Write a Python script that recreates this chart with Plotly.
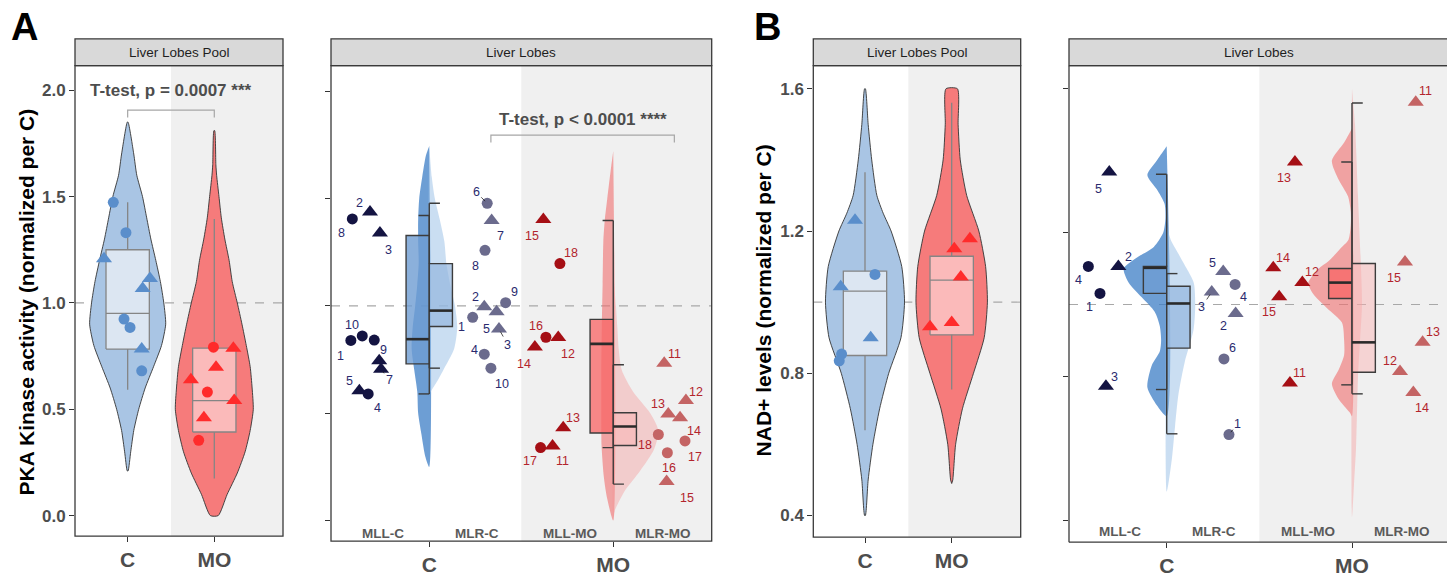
import plotly.graph_objects as go

W, H = 1447, 577
FONT = "Liberation Sans, Arial, sans-serif"

# ======================= DATA =======================
group_ticks = ["C", "MO"]

# ---- Panel A, Liver Lobes Pool (PKA kinase activity) ----
A_pool_C_val = [1.473, 1.33, 1.208, 1.115, 1.068, 0.924, 0.885, 0.783, 0.681]
A_pool_C_jit = [0.834, 0.98, 0.727, 1.257, 1.173, 0.958, 1.027, 1.162, 1.162]
A_pool_C_shp = ["c", "c", "t", "t", "t", "c", "c", "t", "c"]
A_pool_MO_val = [0.792, 0.787, 0.697, 0.639, 0.581, 0.541, 0.46, 0.354]
A_pool_MO_jit = [1.99, 2.22, 2.02, 1.73, 1.92, 2.23, 1.88, 1.82]
A_pool_MO_shp = ["c", "t", "t", "t", "c", "t", "t", "c"]
# box stats: lower whisker, q1, median, q3, upper whisker
A_pool_C_box = [0.592, 0.783, 0.951, 1.25, 1.473]
A_pool_MO_box = [0.174, 0.393, 0.541, 0.787, 1.395]
# violin density profiles (level, relative density)
A_pool_C_lev = [0.21, 0.3, 0.4, 0.5, 0.6, 0.7, 0.8, 0.9, 1.0, 1.1, 1.2, 1.3, 1.4, 1.5, 1.6, 1.7, 1.85]
A_pool_C_den = [0.01, 0.08, 0.16, 0.29, 0.46, 0.68, 0.89, 1.0, 0.95, 0.86, 0.74, 0.61, 0.5, 0.39, 0.24, 0.16, 0.01]
A_pool_MO_lev = [0.0, 0.1, 0.2, 0.3, 0.4, 0.5, 0.6, 0.7, 0.8, 0.9, 1.0, 1.1, 1.2, 1.3, 1.4, 1.5, 1.6, 1.65, 1.81]
A_pool_MO_den = [0.10, 0.33, 0.59, 0.79, 0.92, 1.0, 0.97, 0.92, 0.82, 0.71, 0.59, 0.46, 0.38, 0.27, 0.18, 0.12, 0.06, 0.04, 0.01]
A_pool_test = "T-test, p = 0.0007 ***"

# ---- Panel A, Liver Lobes ----
A_MLLC_id = ["1", "2", "3", "4", "5", "", "7", "8", "9", "10"]
A_MLLC_jit = [0.574, 0.678, 0.732, 0.668, 0.62, 0.701, 0.738, 0.582, 0.728, 0.636]
A_MLLC_val = [0.839, 1.437, 1.34, 0.59, 0.605, 0.841, 0.705, 1.405, 0.744, 0.86]
A_MLLC_shp = ["c", "t", "t", "c", "t", "c", "t", "c", "t", "c"]
A_MLRC_id = ["1", "2", "3", "4", "5", "6", "7", "8", "9", "10"]
A_MLRC_jit = [1.236, 1.299, 1.379, 1.299, 1.366, 1.315, 1.339, 1.303, 1.415, 1.335]
A_MLRC_val = [0.947, 0.996, 0.892, 0.775, 0.973, 1.478, 1.398, 1.259, 1.015, 0.71]
A_MLRC_shp = ["c", "t", "t", "c", "t", "c", "t", "c", "c", "c"]
A_MLLMO_id = ["11", "12", "13", "14", "15", "16", "17", "18"]
A_MLLMO_jit = [1.67, 1.701, 1.728, 1.574, 1.62, 1.634, 1.605, 1.71]
A_MLLMO_val = [0.347, 0.853, 0.432, 0.808, 1.402, 0.854, 0.34, 1.197]
A_MLLMO_shp = ["t", "t", "t", "t", "t", "c", "c", "c"]
A_MLRMO_id = ["11", "12", "13", "14", "15", "16", "17", "18"]
A_MLRMO_jit = [2.277, 2.395, 2.299, 2.363, 2.29, 2.294, 2.39, 2.245]
A_MLRMO_val = [0.733, 0.559, 0.497, 0.479, 0.182, 0.316, 0.371, 0.401]
A_MLRMO_shp = ["t", "t", "t", "t", "t", "c", "c", "c"]
A_MLLC_box = [0.59, 0.73, 0.845, 1.328, 1.421]
A_MLRC_box = [0.71, 0.904, 0.978, 1.197, 1.478]
A_MLLMO_box = [0.34, 0.408, 0.823, 0.937, 1.398]
A_MLRMO_box = [0.17, 0.35, 0.438, 0.502, 0.726]
A_MLLC_lev = [0.25, 0.3, 0.4, 0.5, 0.6, 0.7, 0.8, 0.9, 1.0, 1.1, 1.2, 1.3, 1.4, 1.5, 1.6, 1.7, 1.745]
A_MLLC_den = [0.0, 0.23, 0.44, 0.63, 0.68, 0.85, 1.0, 0.94, 0.8, 0.68, 0.6, 0.63, 0.63, 0.57, 0.4, 0.19, 0.0]
A_MLRC_lev = [0.59, 0.6, 0.65, 0.7, 0.8, 0.9, 1.0, 1.1, 1.2, 1.3, 1.4, 1.5, 1.6, 1.745]
A_MLRC_den = [0.0, 0.05, 0.29, 0.5, 0.89, 1.0, 0.92, 0.75, 0.61, 0.54, 0.38, 0.2, 0.09, 0.0]
A_MLLMO_lev = [0.0, 0.1, 0.2, 0.35, 0.5, 0.7, 0.9, 1.1, 1.3, 1.4, 1.5, 1.65, 1.72]
A_MLLMO_den = [0.0, 0.5, 0.78, 0.98, 1.0, 1.0, 0.96, 0.89, 0.83, 0.71, 0.5, 0.17, 0.0]
A_MLRMO_lev = [0.02, 0.05, 0.14, 0.23, 0.33, 0.42, 0.5, 0.6, 0.7, 0.8, 0.9, 1.0, 1.15]
A_MLRMO_den = [0.0, 0.04, 0.26, 0.59, 0.9, 1.0, 0.82, 0.44, 0.19, 0.12, 0.09, 0.06, 0.0]
A_lobe_test = "T-test, p < 0.0001 ****"

# ---- Panel B, Liver Lobes Pool (NAD+) ----
B_pool_C_val = [1.23, 1.078, 1.043, 0.9, 0.854, 0.835]
B_pool_C_jit = [0.885, 1.115, 0.72, 1.066, 0.73, 0.703]
B_pool_C_shp = ["t", "c", "t", "t", "c", "c"]
B_pool_MO_val = [1.178, 1.15, 1.071, 0.931, 0.943]
B_pool_MO_jit = [2.21, 2.03, 2.105, 1.75, 2.0]
B_pool_MO_shp = ["t", "t", "t", "t", "t"]
B_pool_C_box = [0.64, 0.85, 1.031, 1.087, 1.365]
B_pool_MO_box = [0.754, 0.908, 1.062, 1.129, 1.561]
B_pool_C_lev = [0.4, 0.5, 0.6, 0.7, 0.8, 0.9, 1.0, 1.1, 1.2, 1.25, 1.3, 1.4, 1.5, 1.6]
B_pool_C_den = [0.01, 0.08, 0.2, 0.37, 0.6, 0.91, 1.0, 0.93, 0.66, 0.46, 0.3, 0.17, 0.08, 0.01]
B_pool_MO_lev = [0.49, 0.5, 0.6, 0.7, 0.8, 0.9, 1.0, 1.1, 1.2, 1.3, 1.4, 1.5, 1.6]
B_pool_MO_den = [0.0, 0.03, 0.11, 0.3, 0.61, 0.91, 1.0, 0.95, 0.76, 0.42, 0.24, 0.18, 0.16]

# ---- Panel B, Liver Lobes ----
B_MLLC_id = ["1", "2", "3", "4", "5"]
B_MLLC_jit = [0.64, 0.739, 0.672, 0.577, 0.69]
B_MLLC_val = [1.031, 1.106, 0.773, 1.106, 1.368]
B_MLLC_shp = ["c", "t", "t", "c", "t"]
B_MLRC_id = ["1", "2", "3", "4", "5", "6"]
B_MLRC_jit = [1.336, 1.372, 1.243, 1.369, 1.305, 1.309]
B_MLRC_val = [0.639, 0.975, 1.035, 1.056, 1.092, 0.849]
B_MLRC_shp = ["c", "t", "t", "c", "t", "c"]
B_MLLMO_id = ["11", "12", "13", "14", "15"]
B_MLLMO_jit = [1.665, 1.732, 1.692, 1.575, 1.607]
B_MLLMO_val = [0.782, 1.061, 1.396, 1.102, 1.022]
B_MLLMO_shp = ["t", "t", "t", "t", "t"]
B_MLRMO_id = ["11", "12", "13", "14", "15"]
B_MLRMO_jit = [2.344, 2.259, 2.381, 2.331, 2.286]
B_MLRMO_val = [1.562, 0.814, 0.895, 0.756, 1.118]
B_MLRMO_shp = ["t", "t", "t", "t", "t"]
B_MLLC_box = [0.764, 1.031, 1.102, 1.106, 1.362]
B_MLRC_box = [0.641, 0.879, 1.003, 1.051, 1.086]
B_MLLMO_box = [0.777, 1.017, 1.061, 1.1, 1.396]
B_MLRMO_box = [0.752, 0.812, 0.895, 1.114, 1.56]
B_MLLC_lev = [0.69, 0.72, 0.77, 0.83, 0.87, 0.9, 0.94, 0.98, 1.02, 1.06, 1.1, 1.13, 1.16, 1.2, 1.24, 1.28, 1.32, 1.36, 1.4, 1.44]
B_MLLC_den = [0.0, 0.23, 0.45, 0.35, 0.16, 0.13, 0.16, 0.28, 0.58, 0.88, 1.0, 0.7, 0.3, 0.08, 0.03, 0.05, 0.23, 0.45, 0.23, 0.0]
B_MLRC_lev = [0.48, 0.57, 0.66, 0.75, 0.84, 0.93, 1.0, 1.06, 1.1, 1.14, 1.18, 1.22]
B_MLRC_den = [0.0, 0.18, 0.29, 0.41, 0.63, 0.94, 1.0, 0.95, 0.7, 0.42, 0.14, 0.0]
B_MLLMO_lev = [0.69, 0.7, 0.74, 0.78, 0.82, 0.86, 0.9, 0.95, 0.99, 1.03, 1.06, 1.1, 1.12, 1.155, 1.18, 1.22, 1.26, 1.3, 1.35, 1.4, 1.45, 1.49]
B_MLLMO_den = [0.0, 0.05, 0.32, 0.46, 0.3, 0.18, 0.18, 0.23, 0.57, 0.89, 1.0, 0.76, 0.54, 0.27, 0.08, 0.03, 0.03, 0.09, 0.32, 0.46, 0.18, 0.0]
B_MLRMO_lev = [0.41, 0.5, 0.6, 0.7, 0.8, 0.9, 1.0, 1.1, 1.3, 1.5, 1.6]
B_MLRMO_den = [0.0, 0.2, 0.4, 0.5, 0.6, 0.8, 1.0, 0.9, 0.6, 0.3, 0.0]

sub_labels = ["MLL-C", "MLR-C", "MLL-MO", "MLR-MO"]

# ======================= STYLE / LAYOUT CONSTANTS =======================
C_VIOL, C_BOX, C_PT = "#a9c5e4", "#dce6f2", "#5a8ecb"
MO_VIOL, MO_BOX, MO_PT = "#f67b7b", "#fbbaba", "#ff2b2b"
COL_MLLC_V, COL_MLRC_V = "rgba(60,125,198,0.75)", "rgba(150,190,230,0.5)"
COL_MLLMO_V, COL_MLRMO_V = "rgba(240,110,110,0.6)", "rgba(245,150,150,0.4)"
COL_MLLC_B, COL_MLRC_B = "rgba(110,156,210,0.8)", "rgba(148,182,222,0.7)"
COL_MLLMO_B, COL_MLRMO_B = "rgba(248,100,100,0.75)", "rgba(250,175,175,0.45)"
PT_MLLC, PT_MLRC, PT_MLLMO, PT_MLRMO = "#141442", "#6b6b8d", "#a50f15", "#c46464"
LAB_C, LAB_MO = "#2a2a6e", "#b3242c"
TXT = "#4d4d4d"

def pxx(p):
    return p / W

def pxy(p):
    return 1 - p / H

# panel geometry (pixels) and axis ranges
P = {
    1: dict(x=(75, 283), y=(66, 539), xr=[0.392, 2.793], yr=[-0.0968, 2.1155]),
    2: dict(x=(331, 711.7), y=(66, 544), xr=[0.466, 2.535], yr=[-0.0959, 2.119]),
    3: dict(x=(813.3, 1020.7), y=(66, 540), xr=[0.4037, 2.796], yr=[0.339, 1.665]),
    4: dict(x=(1069, 1447), y=(66, 545), xr=[0.4727, 2.5127], yr=[0.340, 1.6636]),
}

def ax(i):
    return ("x" if i == 1 else f"x{i}", "y" if i == 1 else f"y{i}")

fig = go.Figure()
shapes, anns = [], []
SYM = {"c": "circle", "t": "triangle-up"}
SIZE = {"c": 11, "t": 14}

def add_points(i, xs, vs, shp, color):
    xa, ya = ax(i)
    fig.add_trace(go.Scatter(
        x=xs, y=vs, mode="markers", xaxis=xa, yaxis=ya, showlegend=False, hoverinfo="skip",
        marker=dict(symbol=[SYM[s] for s in shp], size=[SIZE[s] for s in shp],
                    color=color, opacity=1, line=dict(width=0))))

def add_full_violin(i, center, lev, den, maxw, fill):
    xa, ya = ax(i)
    xs = [center + d * maxw for d in den] + [center - d * maxw for d in reversed(den)]
    ys = list(lev) + list(reversed(lev))
    xs.append(xs[0]); ys.append(ys[0])
    fig.add_trace(go.Scatter(
        x=xs, y=ys, mode="lines", fill="toself", fillcolor=fill, xaxis=xa, yaxis=ya,
        line=dict(color="#333333", width=0.9, shape="spline", smoothing=0.6),
        showlegend=False, hoverinfo="skip"))

def add_half_violin(i, center, side, lev, den, maxw, fill):
    xa, ya = ax(i)
    xs = [center + side * d * maxw for d in den] + [center, center]
    ys = list(lev) + [lev[-1], lev[0]]
    fig.add_trace(go.Scatter(
        x=xs, y=ys, mode="lines", fill="toself", fillcolor=fill, xaxis=xa, yaxis=ya,
        line=dict(width=0, shape="spline", smoothing=0.7),
        showlegend=False, hoverinfo="skip"))

def add_pool_box(i, center, st, fill, half=0.25):
    xa, ya = ax(i)
    x0, x1 = center - half, center + half
    col = "#858585"
    fig.add_trace(go.Scatter(
        x=[x0, x1, x1, x0, x0], y=[st[1], st[1], st[3], st[3], st[1]], mode="lines",
        fill="toself", fillcolor=fill, line=dict(color=col, width=1.3),
        xaxis=xa, yaxis=ya, showlegend=False, hoverinfo="skip"))
    fig.add_trace(go.Scatter(
        x=[center, center, None, center, center, None, x0, x1],
        y=[st[3], st[4], None, st[1], st[0], None, st[2], st[2]],
        mode="lines", line=dict(color=col, width=1.3),
        xaxis=xa, yaxis=ya, showlegend=False, hoverinfo="skip"))

HB, CAP = 0.126, 0.058

def add_half_box(i, center, side, st, fill):
    xa, ya = ax(i)
    x0, x1 = center, center + side * HB
    fig.add_trace(go.Scatter(
        x=[x0, x1, x1, x0, x0], y=[st[1], st[1], st[3], st[3], st[1]], mode="lines",
        fill="toself", fillcolor=fill, line=dict(color="#3c3c3c", width=1.4),
        xaxis=xa, yaxis=ya, showlegend=False, hoverinfo="skip"))
    xc = center + side * CAP
    fig.add_trace(go.Scatter(
        x=[center, center, None, center, center, None, center, xc, None, center, xc],
        y=[st[3], st[4], None, st[1], st[0], None, st[4], st[4], None, st[0], st[0]],
        mode="lines", line=dict(color="#3c3c3c", width=1.4),
        xaxis=xa, yaxis=ya, showlegend=False, hoverinfo="skip"))
    fig.add_trace(go.Scatter(
        x=[x0, x1], y=[st[2], st[2]], mode="lines", line=dict(color="#2a2a2a", width=2.6),
        xaxis=xa, yaxis=ya, showlegend=False, hoverinfo="skip"))

def add_labels(i, xs, vs, ids, offs, segs, color):
    xa, ya = ax(i)
    for x, v, t, (dx, dy), s in zip(xs, vs, ids, offs, segs):
        if not t:
            continue
        f = dict(family=FONT, size=12.5, color=color)
        if s:
            anns.append(dict(x=x, y=v, xref=xa, yref=ya, text=t, showarrow=True, ax=dx, ay=dy,
                             arrowhead=0, arrowwidth=0.8, arrowcolor="#222222", standoff=3, font=f))
        else:
            anns.append(dict(x=x, y=v, xref=xa, yref=ya, text=t, showarrow=False,
                             xanchor="center", yanchor="middle",
                             xshift=dx, yshift=-dy, font=f))

def add_bracket(i, x0, x1, ytop, ytick, text, tx, ty):
    xa, ya = ax(i)
    fig.add_trace(go.Scatter(
        x=[x0, x0, x1, x1], y=[ytick, ytop, ytop, ytick], mode="lines",
        line=dict(color="#a6a6a6", width=1.2), xaxis=xa, yaxis=ya,
        showlegend=False, hoverinfo="skip"))
    anns.append(dict(x=tx, y=ty, xref=xa, yref=ya, text=text, showarrow=False,
                     xanchor="center", yanchor="middle",
                     font=dict(family=FONT, size=17, color=TXT, weight="bold")))

# ---------- background shapes ----------
for i in P:
    xa, ya = ax(i)
    shapes.append(dict(type="rect", xref=xa, yref=f"{ya} domain", x0=1.5, x1=P[i]["xr"][1] + 0.1,
                       y0=0, y1=1, fillcolor="#f0f0f0", line=dict(width=0), layer="below"))
    shapes.append(dict(type="line", xref=f"{xa} domain", yref=ya, x0=0, x1=1, y0=1, y1=1,
                       line=dict(color="#a8a8a8", width=1.1, dash="dash"), layer="below"))

# ---------- Panel 1 ----------
add_full_violin(1, 1, A_pool_C_lev, A_pool_C_den, 0.439, C_VIOL)
add_full_violin(1, 2, A_pool_MO_lev, A_pool_MO_den, 0.45, MO_VIOL)
add_pool_box(1, 1, A_pool_C_box, C_BOX)
add_pool_box(1, 2, A_pool_MO_box, MO_BOX)
add_points(1, A_pool_C_jit, A_pool_C_val, A_pool_C_shp, C_PT)
add_points(1, A_pool_MO_jit, A_pool_MO_val, A_pool_MO_shp, MO_PT)
add_bracket(1, 1, 2, 1.906, 1.872, A_pool_test, 1.494, 2.0)

# ---------- Panel 2 ----------
add_half_violin(2, 1, -1, A_MLLC_lev, A_MLLC_den, 0.0957, COL_MLLC_V)
add_half_violin(2, 1, 1, A_MLRC_lev, A_MLRC_den, 0.152, COL_MLRC_V)
add_half_violin(2, 2, -1, A_MLLMO_lev, A_MLLMO_den, 0.065, COL_MLLMO_V)
add_half_violin(2, 2, 1, A_MLRMO_lev, A_MLRMO_den, 0.245, COL_MLRMO_V)
add_half_box(2, 1, -1, A_MLLC_box, COL_MLLC_B)
add_half_box(2, 1, 1, A_MLRC_box, COL_MLRC_B)
add_half_box(2, 2, -1, A_MLLMO_box, COL_MLLMO_B)
add_half_box(2, 2, 1, A_MLRMO_box, COL_MLRMO_B)
add_points(2, A_MLLC_jit, A_MLLC_val, A_MLLC_shp, PT_MLLC)
add_points(2, A_MLRC_jit, A_MLRC_val, A_MLRC_shp, PT_MLRC)
add_points(2, A_MLLMO_jit, A_MLLMO_val, A_MLLMO_shp, PT_MLLMO)
add_points(2, A_MLRMO_jit, A_MLRMO_val, A_MLRMO_shp, PT_MLRMO)
add_labels(2, A_MLLC_jit, A_MLLC_val, A_MLLC_id,
           [(-10, 16), (-11, -9), (9, 17), (9, 14), (-10, -10), (0, 0), (8, 11), (-11, 14), (4, -11), (-10, -11)],
           [0, 0, 0, 0, 0, 0, 1, 0, 0, 0], LAB_C)
add_labels(2, A_MLRC_jit, A_MLRC_val, A_MLRC_id,
           [(-11, 10), (-9, -10), (9, 16), (-10, -4), (-10, 17), (-11, -11), (9, 16), (-10, 16), (9, -11), (11, 16)],
           [0, 0, 1, 0, 0, 1, 0, 0, 0, 0], LAB_C)
add_labels(2, A_MLLMO_jit, A_MLLMO_val, A_MLLMO_id,
           [(10, 15), (10, 17), (10, -10), (-11, 17), (-11, 16), (-10, -11), (-11, 13), (11, -11)],
           [0] * 8, LAB_MO)
add_labels(2, A_MLRMO_jit, A_MLRMO_val, A_MLRMO_id,
           [(10, -9), (10, -9), (-10, -10), (14, 13), (20, 16), (2, 15), (10, 16), (-13, 11)],
           [0] * 8, LAB_MO)
add_bracket(2, 1.335, 2.332, 1.795, 1.761, A_lobe_test, 1.833, 1.866)

# ---------- Panel 3 ----------
add_full_violin(3, 1, B_pool_C_lev, B_pool_C_den, 0.456, C_VIOL)
add_full_violin(3, 2, B_pool_MO_lev, B_pool_MO_den, 0.412, MO_VIOL)
add_pool_box(3, 1, B_pool_C_box, C_BOX)
add_pool_box(3, 2, B_pool_MO_box, MO_BOX)
add_points(3, B_pool_C_jit, B_pool_C_val, B_pool_C_shp, C_PT)
add_points(3, B_pool_MO_jit, B_pool_MO_val, B_pool_MO_shp, MO_PT)

# ---------- Panel 4 ----------
add_half_violin(4, 1, -1, B_MLLC_lev, B_MLLC_den, 0.232, COL_MLLC_V)
add_half_violin(4, 1, 1, B_MLRC_lev, B_MLRC_den, 0.154, COL_MLRC_V)
add_half_violin(4, 2, -1, B_MLLMO_lev, B_MLLMO_den, 0.236, COL_MLLMO_V)
add_half_violin(4, 2, 1, B_MLRMO_lev, B_MLRMO_den, 0.054, COL_MLRMO_V)
add_half_box(4, 1, -1, B_MLLC_box, COL_MLLC_B)
add_half_box(4, 1, 1, B_MLRC_box, COL_MLRC_B)
add_half_box(4, 2, -1, B_MLLMO_box, COL_MLLMO_B)
add_half_box(4, 2, 1, B_MLRMO_box, COL_MLRMO_B)
add_points(4, B_MLLC_jit, B_MLLC_val, B_MLLC_shp, PT_MLLC)
add_points(4, B_MLRC_jit, B_MLRC_val, B_MLRC_shp, PT_MLRC)
add_points(4, B_MLLMO_jit, B_MLLMO_val, B_MLLMO_shp, PT_MLLMO)
add_points(4, B_MLRMO_jit, B_MLRMO_val, B_MLRMO_shp, PT_MLRMO)
add_labels(4, B_MLLC_jit, B_MLLC_val, B_MLLC_id,
           [(-11, 14), (10, -9), (9, -9), (-10, 14), (-11, 17)], [0] * 5, LAB_C)
add_labels(4, B_MLRC_jit, B_MLRC_val, B_MLRC_id,
           [(9, -11), (-12, 12), (-10, 15), (8, 13), (-11, -8), (9, -11)], [1, 0, 1, 0, 0, 0], LAB_C)
add_labels(4, B_MLLMO_jit, B_MLLMO_val, B_MLLMO_id,
           [(10, -10), (10, -11), (-11, 16), (10, -10), (-10, 15)], [0] * 5, LAB_MO)
add_labels(4, B_MLRMO_jit, B_MLRMO_val, B_MLRMO_id,
           [(10, -11), (-10, -11), (10, -10), (9, 16), (-11, 16)], [0] * 5, LAB_MO)

# ---------- sub-group labels at bottom of lobe panels ----------
for i, yv in ((2, -0.059), (4, 0.370)):
    xa, ya = ax(i)
    for lab, xv in zip(sub_labels, (0.75, 1.257, 1.765, 2.265)):
        anns.append(dict(x=xv, y=yv, xref=xa, yref=ya, text=lab, showarrow=False,
                         xanchor="center", yanchor="middle",
                         font=dict(family=FONT, size=13.5, color="#5a5a5a", weight="bold")))

# ---------- frames and strips ----------
strip_titles = {1: "Liver Lobes Pool", 2: "Liver Lobes", 3: "Liver Lobes Pool", 4: "Liver Lobes"}
FR = dict(color="#3a3a3a", width=1.3)
for i in P:
    xa, ya = ax(i)
    right = 1 if i != 4 else 1.02
    shapes.append(dict(type="rect", xref=f"{xa} domain", yref="paper", x0=0, x1=right,
                       y0=pxy(66), y1=pxy(39), fillcolor="#d9d9d9", line=FR, layer="above"))
    if i != 4:
        shapes.append(dict(type="rect", xref=f"{xa} domain", yref=f"{ya} domain", x0=0, x1=1,
                           y0=0, y1=1, line=FR, layer="above"))
    else:
        for (x0, x1, y0, y1) in ((0, 0, 0, 1), (0, 1.02, 0, 0), (0, 1.02, 1, 1)):
            shapes.append(dict(type="line", xref=f"{xa} domain", yref=f"{ya} domain",
                               x0=x0, x1=x1, y0=y0, y1=y1, line=FR, layer="above"))
    xc_paper = pxx((P[i]["x"][0] + (P[i]["x"][1] if i != 4 else 1449.7)) / 2)
    anns.append(dict(x=xc_paper, y=pxy(52.5), xref="paper", yref="paper", text=strip_titles[i],
                     xanchor="center", yanchor="middle",
                     showarrow=False, font=dict(family=FONT, size=13.5, color="#1e1e1e")))

# ---------- titles / panel letters ----------
anns.append(dict(x=pxx(26), y=pxy(304), xref="paper", yref="paper", textangle=-90, showarrow=False,
                 xanchor="center", yanchor="middle",
                 text="PKA Kinase activity (normalized per C)",
                 font=dict(family=FONT, size=21, color="#000000", weight="bold")))
anns.append(dict(x=pxx(763), y=pxy(302), xref="paper", yref="paper", textangle=-90, showarrow=False,
                 xanchor="center", yanchor="middle",
                 text="NAD+ levels (normalized per C)",
                 font=dict(family=FONT, size=21, color="#000000", weight="bold")))
anns.append(dict(x=pxx(24.5), y=pxy(27.5), xref="paper", yref="paper", text="A", showarrow=False,
                 xanchor="center", yanchor="middle",
                 font=dict(family=FONT, size=38, color="#000000", weight="bold")))
anns.append(dict(x=pxx(767), y=pxy(27.5), xref="paper", yref="paper", text="B", showarrow=False,
                 xanchor="center", yanchor="middle",
                 font=dict(family=FONT, size=38, color="#000000", weight="bold")))

# ---------- axes ----------
layout_axes = {}
yticks = {1: ([0, 0.5, 1, 1.5, 2], ["0.0", "0.5", "1.0", "1.5", "2.0"]),
          3: ([0.4, 0.8, 1.2, 1.6], ["0.4", "0.8", "1.2", "1.6"])}
yticks[2] = (yticks[1][0], [""] * 5)
yticks[4] = (yticks[3][0], [""] * 4)
for i in P:
    xa, ya = ax(i)
    xkey = "xaxis" if i == 1 else f"xaxis{i}"
    ykey = "yaxis" if i == 1 else f"yaxis{i}"
    layout_axes[xkey] = dict(
        domain=[pxx(P[i]["x"][0]), pxx(P[i]["x"][1])], range=P[i]["xr"], anchor=ya, type="linear",
        tickvals=[1, 2], ticktext=group_ticks, ticks="outside", ticklen=5, tickwidth=1.3,
        tickcolor="#333333", showgrid=False, zeroline=False, showline=False,
        tickfont=dict(family=FONT, size=21, color=TXT, weight="bold"))
    layout_axes[ykey] = dict(
        domain=[pxy(P[i]["y"][1]), pxy(P[i]["y"][0])], range=P[i]["yr"], anchor=xa,
        tickvals=yticks[i][0], ticktext=yticks[i][1], ticks="outside", ticklen=5, tickwidth=1.3,
        tickcolor="#333333", showgrid=False, zeroline=False, showline=False,
        tickfont=dict(family=FONT, size=17, color=TXT, weight="bold"))

fig.update_layout(
    width=W, height=H, margin=dict(l=0, r=0, t=0, b=0),
    paper_bgcolor="white", plot_bgcolor="white",
    shapes=shapes, annotations=anns, showlegend=False, **layout_axes)

fig.write_html("out.html")
